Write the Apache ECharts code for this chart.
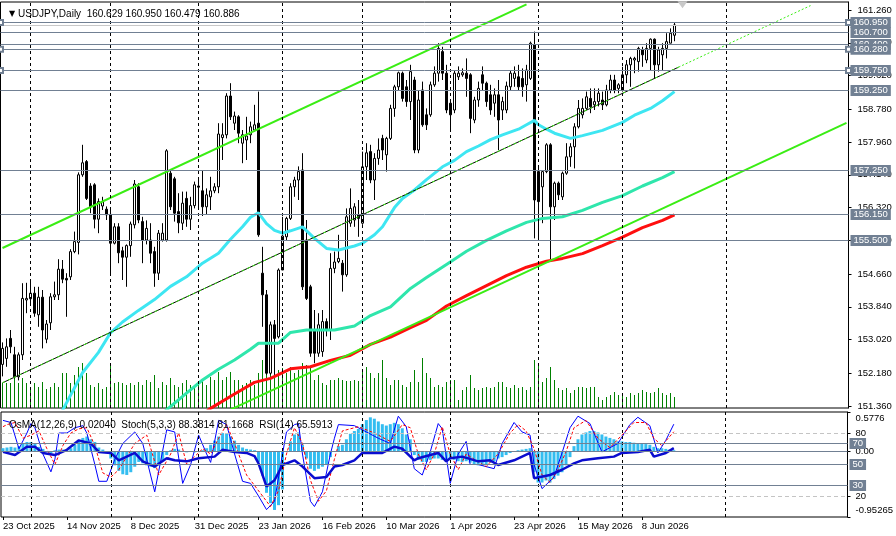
<!DOCTYPE html>
<html>
<head>
<meta charset="utf-8">
<title>USDJPY Daily</title>
<script src="https://cdn.jsdelivr.net/npm/echarts@6/dist/echarts.min.js"></script>
<style>
html,body{margin:0;padding:0;background:#fff;}
#main{width:896px;height:536px;}
</style>
</head>
<body>
<div id="main"></div>
<script>
var FONT = 'Liberation Sans, Arial, sans-serif';
var BAR_COUNT = 212;   // bars visible incl. the empty shift zone

// time axis labels [bar index, text]
var dateLabels = [[0,'23 Oct 2025'],[16,'14 Nov 2025'],[32,'8 Dec 2025'],[48,'31 Dec 2025'],[64,'23 Jan 2026'],
    [80,'16 Feb 2026'],[96,'10 Mar 2026'],[112,'1 Apr 2026'],[128,'23 Apr 2026'],[144,'15 May 2026'],[160,'8 Jun 2026']];
// period separators (first bar of each month)
var monthSeparators = [7,27,49,70,90,112,134,155,181];

var priceTicks = [151.36,152.18,153.02,153.84,154.66,155.50,156.32,157.14,157.96,158.78,159.62,160.44,161.26];
var levelsMarked = [160.95,160.28,159.75];
var levelsPlain = [160.70,160.40,159.25,157.25,156.15,155.50];
var bidPrice = 160.886;

// daily bars [open, high, low, close]
var priceBars = [
[152.40,152.95,152.10,152.80],[152.55,153.05,152.34,152.84],[153.05,153.26,152.68,152.84],[152.64,152.84,152.05,152.09],
[152.09,152.70,152.00,152.64],[152.64,154.43,152.51,154.05],[154.01,154.44,153.68,154.05],[154.04,154.47,153.93,154.18],
[154.18,154.34,153.59,153.68],[153.64,154.34,153.34,154.08],[154.08,154.26,152.80,153.26],[153.03,153.51,152.93,153.41],
[153.44,154.18,153.26,154.09],[154.09,154.47,154.01,154.14],[154.14,155.03,154.01,154.78],[154.78,155.01,154.43,154.53],
[154.55,154.68,153.59,154.51],[154.59,155.28,154.51,155.22],[155.22,155.72,155.18,155.47],[155.45,157.20,155.15,157.14],
[157.14,157.89,157.09,157.44],[157.47,157.51,156.51,156.55],[156.86,156.93,156.18,156.34],[156.89,156.93,155.80,156.03],
[156.03,156.55,155.68,156.47],[156.36,156.59,156.26,156.47],[156.28,156.35,156.01,156.14],[156.15,156.26,154.68,155.43],
[155.43,155.93,155.40,155.84],[155.84,155.93,154.93,155.19],[155.24,155.34,154.51,155.08],[155.08,155.40,154.34,155.37],
[155.37,155.97,155.09,155.91],[155.89,157.01,155.80,156.91],[156.84,156.93,155.93,156.01],[155.97,156.09,154.93,155.51],
[155.51,156.00,155.40,155.80],[155.51,155.93,154.93,155.18],[155.22,155.34,154.34,154.68],[154.68,155.76,154.51,155.68],
[155.51,155.93,155.47,155.68],[155.51,157.78,155.47,157.74],[157.18,157.26,156.26,156.34],[157.04,157.09,155.97,156.18],
[156.22,156.68,155.68,155.94],[155.93,156.72,155.76,156.43],[156.55,156.72,155.84,156.03],[156.03,156.59,155.76,156.37],
[156.37,156.97,156.30,156.89],[156.86,157.01,156.30,156.83],[156.74,157.26,156.11,156.34],[156.34,156.80,156.14,156.64],
[156.59,157.09,156.26,156.74],[156.74,156.93,156.68,156.84],[156.84,158.43,156.68,158.16],[158.07,158.43,157.51,158.14],
[158.14,159.18,158.05,159.11],[159.11,159.43,158.51,158.59],[158.43,158.72,158.26,158.61],[158.59,158.63,157.93,158.18],
[157.93,158.26,157.43,158.14],[158.01,158.59,157.51,158.11],[158.14,158.47,157.93,158.34],[158.26,158.89,158.22,158.39],
[158.43,159.22,155.59,155.64],[154.68,155.34,153.34,154.14],[154.14,154.26,152.14,152.18],[152.18,153.47,152.14,153.39],
[153.39,153.51,152.14,153.05],[153.09,154.80,153.05,154.76],[154.76,156.09,154.76,155.61],[155.59,156.09,155.51,156.05],
[156.05,156.93,156.01,156.84],[156.84,157.09,156.59,157.01],[157.01,157.35,156.51,157.22],[157.26,157.68,154.26,154.34],
[155.51,156.01,154.01,154.05],[154.34,154.39,152.59,152.68],[153.26,153.76,152.43,152.68],[152.68,153.68,152.59,153.39],
[152.72,153.76,152.59,153.47],[153.47,153.55,153.10,153.26],[153.26,155.18,153.01,154.80],[154.80,155.22,154.68,154.96],
[154.97,155.64,154.93,155.05],[154.93,155.01,154.22,154.64],[154.64,156.30,154.59,156.09],[155.93,156.80,155.84,156.30],
[156.01,156.43,155.84,156.34],[156.14,156.51,155.59,156.05],[155.93,157.72,155.89,157.34],[157.34,157.93,157.01,157.69],
[157.72,157.89,156.93,157.01],[157.01,157.68,156.51,157.55],[157.55,158.05,157.39,157.76],[158.05,158.14,157.51,157.76],
[157.64,158.09,157.22,158.05],[158.05,158.89,158.01,158.80],[158.80,159.39,158.59,159.34],[159.34,159.72,159.26,159.69],
[159.68,159.72,158.97,159.05],[159.34,159.51,158.84,158.97],[158.97,159.89,158.51,159.72],[159.51,159.59,157.68,157.76],
[157.76,159.26,157.68,159.01],[159.26,159.47,158.34,158.39],[158.64,158.80,158.26,158.39],[158.64,159.47,158.59,159.39],
[159.39,159.85,159.34,159.68],[159.68,160.43,159.47,160.30],[160.22,160.34,159.51,159.68],[159.68,159.89,158.68,158.76],
[158.93,159.01,158.26,158.64],[158.76,159.76,158.68,159.68],[159.59,159.85,159.51,159.68],[159.64,159.80,159.59,159.69],
[159.68,160.05,159.09,159.55],[159.64,159.68,158.18,158.55],[158.51,159.09,158.43,159.01],[159.01,159.47,158.84,159.30],
[159.64,159.85,159.26,159.43],[159.43,159.47,158.84,158.97],[159.14,159.39,158.64,158.76],[158.93,159.30,158.59,159.14],
[159.14,159.51,157.76,158.51],[158.76,159.09,158.51,158.97],[158.76,159.47,158.68,159.36],[159.34,159.76,159.26,159.68],
[159.55,159.85,159.34,159.68],[159.59,159.89,159.26,159.34],[159.55,159.80,159.09,159.34],[159.39,159.89,158.97,159.76],
[159.55,160.47,159.51,160.43],[160.39,160.72,155.55,156.51],[157.22,157.34,155.51,156.47],[156.84,157.26,155.93,157.22],
[157.22,157.93,157.18,157.89],[157.89,157.93,155.00,156.34],[156.34,156.97,156.01,156.93],[156.93,156.97,156.51,156.64],
[156.59,157.22,156.51,157.18],[157.18,157.93,157.14,157.59],[157.59,157.93,157.34,157.84],[157.84,158.43,157.30,158.34],
[158.34,159.01,158.30,158.80],[158.64,159.05,158.55,158.80],[158.80,159.22,158.76,159.09],[159.05,159.30,158.68,158.84],
[158.89,159.30,158.76,158.97],[158.97,159.30,158.85,159.18],[159.01,159.22,158.76,158.89],[158.89,159.39,158.85,159.26],
[159.26,159.64,159.18,159.51],[159.51,159.64,159.18,159.26],[159.30,159.43,159.18,159.39],[159.26,159.84,159.22,159.64],
[159.64,160.01,159.43,159.89],[159.89,160.09,159.34,160.05],[160.01,160.09,159.68,160.05],[159.97,160.34,159.72,160.30],
[160.26,160.34,159.84,160.14],[160.01,160.43,159.93,160.30],[160.30,160.55,159.76,160.53],[160.53,160.55,159.55,159.89],
[159.89,160.34,159.72,160.26],[160.14,160.43,159.76,160.30],[160.30,160.68,160.05,160.47],[160.43,160.80,160.43,160.68],
[160.629,160.950,160.479,160.886]
];

// tick volume
var volumes = [25,25,25,31,25,30,25,21,25,21,26,19,21,25,21,35,35,25,33,41,45,35,23,21,25,19,21,45,25,26,25,23,25,23,
    26,23,28,26,33,20,26,23,30,23,21,25,28,23,20,25,28,23,31,28,36,28,31,36,28,28,23,25,28,23,35,48,35,38,45,
    38,40,35,41,35,38,45,43,41,28,33,25,23,28,28,30,28,27,27,28,27,38,41,35,30,35,48,30,23,28,28,23,21,
    26,38,26,50,35,30,21,23,21,26,28,28,8,18,21,33,20,18,20,21,20,21,26,26,21,20,23,20,21,18,21,48,45,26,30,
    41,28,20,18,20,15,18,21,21,20,21,21,11,8,11,13,16,13,15,11,15,13,15,18,16,15,16,20,15,13,15,11];

// moving averages [bar, price]
var maFast = [[13,150.8],[15,151.25],[20,152.19],[24,152.7],[27,153.19],[30,153.46],[34,153.75],[38,154.02],[42,154.35],
    [46,154.59],[50,154.93],[54,155.18],[57,155.53],[60,155.84],[62,156.08],[64,156.19],[66,155.92],[68,155.75],[70,155.68],
    [72,155.74],[75,155.84],[78,155.55],[81,155.30],[84,155.26],[88,155.36],[90,155.43],[93,155.64],[95,155.84],[98,156.32],
    [100,156.55],[103,156.76],[106,157.02],[110,157.34],[113,157.50],[116,157.72],[119,157.86],[122,158.02],[125,158.14],
    [129,158.28],[131,158.39],[133,158.50],[134,158.39],[136,158.28],[138,158.18],[142,158.05],[145,158.12],[150,158.25],
    [155,158.45],[158,158.63],[162,158.80],[165,158.99],[168,159.22]];
var maMid = [[39,151.1],[41,151.26],[46,151.68],[50,152.01],[54,152.28],[58,152.51],[62,152.78],[64,152.93],[69,152.93],
    [72,153.2],[76,153.26],[83,153.26],[88,153.36],[92,153.62],[97,153.84],[102,154.3],[106,154.57],[111,154.9],[116,155.23],
    [121,155.5],[126,155.74],[131,155.95],[135,156.05],[140,156.09],[145,156.25],[150,156.45],[155,156.62],[160,156.86],
    [165,157.07],[168,157.22]];
var maSlow = [[50,151.15],[52,151.3],[58,151.66],[63,151.95],[67,152.05],[72,152.29],[77,152.34],[82,152.5],[87,152.63],
    [92,152.9],[97,153.08],[102,153.32],[106,153.5],[111,153.86],[116,154.12],[121,154.37],[126,154.62],[131,154.83],
    [136,154.98],[140,155.05],[145,155.17],[150,155.37],[155,155.58],[160,155.82],[165,156.0],[168,156.14]];

// trend channel end points [bar, price]
var channelUpper = [[0,155.31],[131,161.40]];
var channelMid = [[0,151.94],[169,159.83]];
var channelMidExt = [[169,159.83],[202,161.37]];
var channelLower = [[57,151.27],[211,158.44]];

// OsMA(12,26,9)
var osma = [0.05,0.06,0.07,0.06,0.08,0.12,0.14,0.14,0.12,
    0.07,0.04,0.0,-0.02,0.02,0.03,0.03,0.02,
    0.05,0.10,0.16,0.20,0.22,0.18,0.14,
    0.06,0.03,0.0,
    -0.10,-0.20,-0.28,-0.33,-0.34,-0.30,-0.22,
    -0.15,-0.17,-0.20,-0.22,-0.24,-0.20,-0.14,-0.05,
    0.02,0.04,0.03,0.01,-0.01,
    0.0,-0.01,0.01,0.02,
    0.05,0.10,0.16,0.22,0.27,0.27,0.22,0.16,0.10,0.06,0.04,0.03,0.02,
    -0.15,-0.35,-0.60,-0.75,-0.85,-0.78,-0.55,
    0.0,0.15,0.25,0.28,0.10,-0.10,-0.25,-0.28,-0.25,-0.22,-0.18,-0.08,0.0,0.08,0.10,0.18,0.26,0.30,0.33,0.40,
    0.46,0.50,0.48,0.44,0.40,0.38,0.40,0.42,0.40,0.34,0.25,0.18,-0.05,-0.12,-0.15,-0.15,-0.12,-0.10,-0.10,-0.12,-0.14,
    -0.10,-0.12,-0.14,-0.15,-0.14,-0.16,-0.18,-0.20,-0.20,-0.18,-0.16,-0.14,-0.10,-0.08,-0.05,-0.02,0.0,0.02,0.03,0.04,0.05,
    -0.30,-0.45,-0.45,-0.42,-0.45,-0.40,-0.35,-0.30,-0.20,-0.08,
    0.08,0.18,0.25,0.28,0.30,0.30,0.28,0.25,0.22,0.20,0.18,0.15,0.15,0.14,0.14,0.13,0.12,0.12,0.11,0.10,0.07,0.05,
    0.05,0.04,0.03,0.0204];

// Stoch(5,3,3) main / signal and RSI(14) [bar, value]
var stochMain = [[0,92],[2,90],[4,65],[6,80],[7,89],[8,85],[10,60],[12,43],[13,55],[14,80],[16,80],[18,85],[20,87],[21,80],
    [23,50],[24,34],[26,34],[28,55],[30,70],[33,81],[35,70],[38,24],[41,83],[43,81],[45,32],[47,50],[49,78],[51,60],[52,52],
    [54,92],[56,88],[58,60],[60,34],[62,32],[64,20],[66,7],[68,15],[70,60],[71,81],[73,88],[74,89],[75,60],[77,15],[78,10],
    [80,24],[82,60],[83,75],[84,88],[88,87],[91,81],[94,75],[97,70],[99,96],[101,86],[103,46],[105,40],[107,62],[109,89],
    [110,84],[112,32],[114,60],[116,72],[117,50],[119,50],[123,46],[125,70],[128,90],[130,81],[132,78],[133,50],[135,27],
    [138,38],[140,61],[142,85],[144,96],[147,89],[150,62],[154,70],[157,88],[159,95],[162,87],[164,61],[166,73],[168,88.38]];
var stochSignal = [[0,86],[1,88],[3,90],[5,75],[7,78],[9,82],[11,65],[13,50],[15,68],[17,80],[19,84],[21,85],[23,68],[25,42],
    [27,38],[29,45],[33,70],[36,78],[39,40],[42,60],[44,80],[46,50],[50,65],[52,60],[54,75],[56,88],[58,70],[61,40],[63,30],
    [65,20],[67,10],[69,25],[71,60],[73,85],[75,70],[77,35],[79,15],[81,25],[83,55],[85,82],[89,86],[93,80],[97,72],[100,88],
    [102,85],[104,60],[106,45],[108,60],[110,86],[112,60],[114,45],[116,60],[118,55],[121,48],[124,60],[127,80],[129,88],
    [131,82],[133,65],[135,40],[137,33],[139,45],[141,62],[143,85],[146,92],[149,75],[152,66],[155,78],[158,90],[161,90],
    [163,75],[165,68],[168,81.17]];
var rsi = [[0,62],[3,59],[6,67],[8,67],[10,61],[13,59],[16,64],[19,73],[22,70],[24,62],[27,61],[29,54],[33,61],[35,53],
    [38,48],[41,56],[43,54],[46,53],[49,56],[53,57.5],[55,64],[58,62],[61,61],[63,58],[64,51],[66,29],[68,35],[70,49.5],
    [73,54],[75,48],[78,37],[81,38],[83,48],[85,49.5],[88,54],[90,61],[93,61],[95,61],[98,67],[100,65],[103,54],[104,56],
    [107,59],[109,61],[111,53],[112,56],[115,57.5],[119,53],[122,54],[124,49.5],[128,54],[132,61],[133,37],[137,40],
    [140,45],[143,51],[145,54],[149,56],[153,57.5],[155,61],[159,62],[162,64],[163,57.5],[166,61],[168,65.59]];

var oscLevels = [70,50,30];
var oscDashed = [80,20];

function buildCandles(rows){
    var res = [];
    for(var i = 0; i < rows.length; i++){
        var r = rows[i];
        res.push([r[0], r[3], r[2], r[1]]);   // echarts order: open, close, low, high
    }
    return res;
}

var cats = [];
for(var i = 0; i < BAR_COUNT; i++){ cats.push(i); }

var labelMap = {};
dateLabels.forEach(function(d){ labelMap[d[0]] = d[1]; });

var SLATE = '#718093';
var LIME = '#3aed14';

var boxLabel = {
    show: true, position: 'end', distance: 2, color: '#fff', backgroundColor: SLATE,
    padding: [1, 3, 0, 3], fontSize: 9.5, fontFamily: FONT
};

function priceLevels(list){
    return list.map(function(v){ return {yAxis: v, label: {formatter: v.toFixed(3)}}; });
}
function separators(){
    return monthSeparators.map(function(v){ return {xAxis: v}; });
}
function oscLevelLines(){
    var res = oscLevels.map(function(v){
        return {yAxis: v, label: {formatter: String(v)}, lineStyle: {color: SLATE, type: 'solid', width: 1}};
    });
    oscDashed.forEach(function(v){
        res.push({yAxis: v, label: {show: false}, lineStyle: {color: '#c4c4c4', type: [4, 3], width: 1}});
    });
    return res;
}

var myChart = echarts.init(document.getElementById('main'), null, {renderer: 'canvas'});

var option = {
    animation: false,
    backgroundColor: '#fff',
    textStyle: {fontFamily: FONT},
    title: [{
        text: '{tri|▼} USDJPY,Daily  160.629 160.950 160.479 160.886',
        left: 4, top: 4,
        textStyle: {fontSize: 10, fontWeight: 'normal', color: '#000', fontFamily: FONT,
            rich: {tri: {fontSize: 8, color: '#000', fontFamily: 'DejaVu Sans'}}}
    }, {
        text: 'OsMA(12,26,9) 0.02040  Stoch(5,3,3) 88.3814 81.1668  RSI(14) 65.5913',
        left: 4, top: 415,
        textStyle: {fontSize: 10, fontWeight: 'normal', color: '#000', fontFamily: FONT}
    }],
    grid: [
        {left: 0.5, top: 2, width: 848, height: 406, show: true, borderColor: '#000', borderWidth: 1},
        {left: 0.5, top: 412, width: 848, height: 105, show: true, borderColor: '#000', borderWidth: 1}
    ],
    xAxis: [
        {type: 'category', gridIndex: 0, data: cats, boundaryGap: true, show: false},
        {type: 'category', gridIndex: 1, data: cats, boundaryGap: true,
            axisLine: {show: false},
            axisTick: {show: true, alignWithLabel: true, length: 3, lineStyle: {color: '#000'},
                interval: function(idx){ return labelMap[idx] !== undefined; }},
            axisLabel: {show: true, align: 'left', margin: 4, fontSize: 9.5, color: '#000', fontFamily: FONT,
                interval: function(idx){ return labelMap[idx] !== undefined; },
                formatter: function(v, idx){ return labelMap[idx] || ''; }},
            splitLine: {show: false}}
    ],
    yAxis: [
        {type: 'value', gridIndex: 0, position: 'right', min: 151.31, max: 161.46,
            axisLine: {show: true, lineStyle: {color: '#000'}},
            axisTick: {show: true, length: 3, customValues: priceTicks, lineStyle: {color: '#000'}},
            axisLabel: {customValues: priceTicks, formatter: function(v){ return v.toFixed(3); },
                fontSize: 9.5, color: '#000', margin: 9, fontFamily: FONT},
            splitLine: {show: false}},
        {type: 'value', gridIndex: 0, min: 0, max: 406, show: false},
        {type: 'value', gridIndex: 1, position: 'right', min: 0, max: 100,
            axisLine: {show: true, lineStyle: {color: '#000'}},
            axisTick: {show: true, length: 3, customValues: oscDashed, lineStyle: {color: '#000'}},
            axisLabel: {customValues: oscDashed, formatter: function(v){ return String(v); },
                fontSize: 9.5, color: '#000', margin: 8, fontFamily: FONT},
            splitLine: {show: false}},
        {type: 'value', gridIndex: 1, position: 'right', min: -0.95265, max: 0.5776,
            axisLine: {show: false},
            axisTick: {show: true, length: 3, customValues: [0.5776, 0, -0.95265], lineStyle: {color: '#000'}},
            axisLabel: {customValues: [0.5776, 0, -0.95265], margin: 8,
                formatter: function(v){
                    if(v > 0.5) return '{t|0.5776}';
                    if(v < -0.9) return '{b|-0.95265}';
                    return '{m|0.00}';
                },
                rich: {
                    t: {fontSize: 9.5, color: '#000', fontFamily: FONT, padding: [12, 0, 0, 0]},
                    m: {fontSize: 9.5, color: '#000', fontFamily: FONT},
                    b: {fontSize: 9.5, color: '#000', fontFamily: FONT, padding: [0, 0, 13, 0]}
                }},
            splitLine: {show: false}}
    ],
    series: [
        {   // tick volume
            type: 'bar', xAxisIndex: 0, yAxisIndex: 1, data: volumes, barWidth: 1, z: 1,
            itemStyle: {color: '#008000'},
            markLine: {silent: true, symbol: 'none', label: {show: false},
                lineStyle: {color: '#000', type: [3, 3], width: 1}, data: separators()}
        },
        {
            type: 'candlestick', xAxisIndex: 0, yAxisIndex: 0, data: buildCandles(priceBars), barWidth: 3, z: 2,
            itemStyle: {color: '#fff', color0: '#000', borderColor: '#000', borderColor0: '#000', borderWidth: 1},
            markLine: {silent: true, symbol: 'none', label: boxLabel,
                lineStyle: {color: SLATE, type: 'solid', width: 1},
                data: [{yAxis: bidPrice, label: {show: false}, lineStyle: {color: '#c8c8c8'}}].concat(priceLevels(levelsPlain))},
            markPoint: {silent: true, label: {show: false},
                data: [{coord: [170, 161.39], symbol: 'triangle', symbolRotate: 180, symbolSize: [10, 7],
                    itemStyle: {color: '#c8c8c8'}}]}
        },
        {
            type: 'line', xAxisIndex: 0, yAxisIndex: 0, data: maFast, showSymbol: false, z: 3,
            lineStyle: {color: '#3ee6f2', width: 3},
            markLine: {silent: true, symbol: ['emptyRect', 'emptyRect'], symbolSize: 5, label: boxLabel,
                lineStyle: {color: SLATE, type: 'solid', width: 1}, data: priceLevels(levelsMarked)}
        },
        {type: 'line', xAxisIndex: 0, yAxisIndex: 0, data: maMid, showSymbol: false, z: 3,
            lineStyle: {color: '#2fe6ac', width: 3}},
        {type: 'line', xAxisIndex: 0, yAxisIndex: 0, data: maSlow, showSymbol: false, z: 3,
            lineStyle: {color: '#ff0f0f', width: 3}},
        {type: 'line', xAxisIndex: 0, yAxisIndex: 0, data: channelUpper, showSymbol: false, z: 4,
            lineStyle: {color: LIME, width: 2}},
        {type: 'line', xAxisIndex: 0, yAxisIndex: 0, data: channelLower, showSymbol: false, z: 4,
            lineStyle: {color: LIME, width: 2}},
        {type: 'line', xAxisIndex: 0, yAxisIndex: 0, data: channelMid, showSymbol: false, z: 4,
            lineStyle: {color: '#000', width: 1}},
        {type: 'line', xAxisIndex: 0, yAxisIndex: 0, data: channelMid, showSymbol: false, z: 4,
            lineStyle: {color: LIME, width: 1, type: [3, 3]}},
        {type: 'line', xAxisIndex: 0, yAxisIndex: 0, data: channelMidExt, showSymbol: false, z: 4,
            lineStyle: {color: LIME, width: 1, type: [2, 2]}},

        // indicator window
        {
            type: 'bar', xAxisIndex: 1, yAxisIndex: 3, data: osma, barWidth: 3, z: 1,
            itemStyle: {color: '#33bdf0'},
            markLine: {silent: true, symbol: 'none', label: {show: false}, data: [
                {yAxis: 0, lineStyle: {color: SLATE, type: 'solid', width: 1}}
            ].concat(separators().map(function(s){
                s.lineStyle = {color: '#000', type: [3, 3], width: 1}; return s;
            }))}
        },
        {
            type: 'line', xAxisIndex: 1, yAxisIndex: 2, data: rsi, showSymbol: false, z: 4,
            lineStyle: {color: '#0a0ccf', width: 2.5},
            markLine: {silent: true, symbol: 'none', label: boxLabel, data: oscLevelLines()}
        },
        {type: 'line', xAxisIndex: 1, yAxisIndex: 2, data: stochMain, showSymbol: false, z: 3,
            lineStyle: {color: '#0000ff', width: 1}},
        {type: 'line', xAxisIndex: 1, yAxisIndex: 2, data: stochSignal, showSymbol: false, z: 3,
            lineStyle: {color: '#ff0000', width: 1, type: [3, 2]}}
    ]
};

myChart.setOption(option);
</script>
</body>
</html>
